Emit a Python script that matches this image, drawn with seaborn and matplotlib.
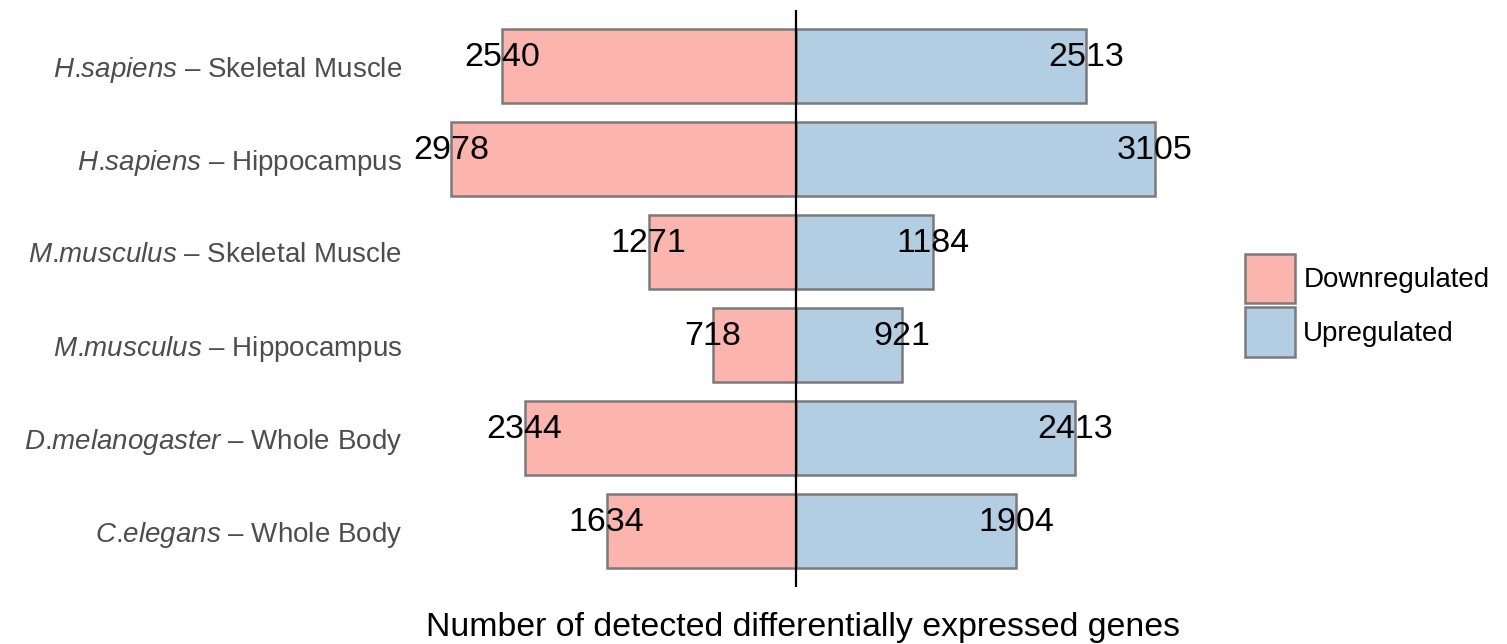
import pandas as pd
import numpy as np
import matplotlib
matplotlib.use('Agg')
import matplotlib.pyplot as plt
from matplotlib.patches import Patch
import seaborn as sns

species = ['H.sapiens', 'H.sapiens', 'M.musculus', 'M.musculus', 'D.melanogaster', 'C.elegans']
tissues = ['Skeletal Muscle', 'Hippocampus', 'Skeletal Muscle', 'Hippocampus', 'Whole Body', 'Whole Body']
down = [2540, 2978, 1271, 718, 2344, 1634]
up = [2513, 3105, 1184, 921, 2413, 1904]
directions = ['Downregulated', 'Upregulated']
colors = ['#FBB4AE', '#B3CDE3']

sns.set_style('white')
plt.rcParams['font.family'] = ['Liberation Sans', 'DejaVu Sans']
plt.rcParams['mathtext.fontset'] = 'custom'
plt.rcParams['mathtext.it'] = 'Liberation Sans:italic'
plt.rcParams['mathtext.rm'] = 'Liberation Sans'

#Italic genus/species; the dot stays outside mathtext to avoid its punctuation gap
def make_label(sp, tissue):
    genus, name = sp.split('.')
    return r'$\mathit{%s}$.$\mathit{%s}$ – %s' % (genus, name, tissue)

labels = [make_label(s, t) for s, t in zip(species, tissues)]

#Long table, downregulated counts drawn to the left
df = pd.DataFrame({
    'group': labels * 2,
    'direction': [directions[0]] * len(down) + [directions[1]] * len(up),
    'count': [-v for v in down] + up,
})

fig = plt.figure(figsize=(15.07, 6.44), dpi=100)
ax = fig.add_axes([416 / 1507, 1 - 587 / 644, 774 / 1507, 577 / 644])

sns.barplot(data=df, y='group', x='count', hue='direction', order=labels,
            hue_order=directions, palette=colors, dodge=False, saturation=1,
            width=0.8, edgecolor='#7A7A7A', linewidth=1.8, legend=False, ax=ax)

ax.margins(x=0.05)
ax.set_ylim(len(labels) - 0.4, -0.6)
ax.axvline(0, color='black', lw=1.6)

#Count labels centred on bar ends
for i in range(len(labels)):
    ax.text(-down[i], i, str(down[i]), ha='center', va='baseline', fontsize=24.5, color='black')
    ax.text(up[i], i, str(up[i]), ha='center', va='baseline', fontsize=24.5, color='black')

sns.despine(ax=ax, left=True, bottom=True)
ax.set_xticks([])
ax.tick_params(axis='y', length=0, pad=10, labelsize=20, labelcolor='#4D4D4D')
ax.set_ylabel('')
ax.set_xlabel('Number of detected differentially expressed genes', fontsize=24.4,
              labelpad=18, color='black')

handles = [Patch(facecolor=c, edgecolor='#7A7A7A', linewidth=1.8) for c in colors]
fig.legend(handles, directions, loc='upper left', bbox_to_anchor=(1245 / 1507, 1 - 254 / 644),
           frameon=False, fontsize=20, handlelength=1.8, handleheight=2.35,
           handletextpad=0.3, labelspacing=0.15, borderpad=0, borderaxespad=0,
           labelcolor='black')

fig.savefig('out.png', dpi=100)
